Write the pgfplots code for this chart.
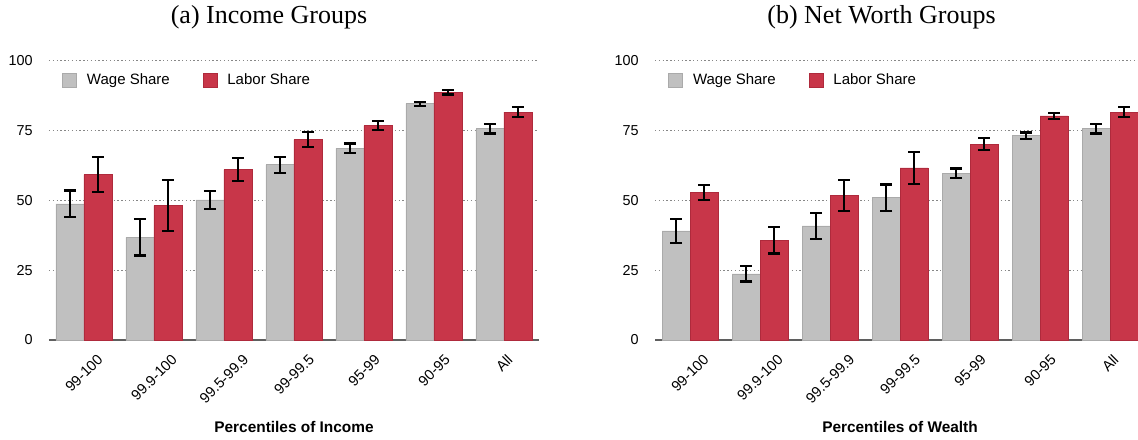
\documentclass[border=0pt]{standalone}
\usepackage{fontspec}
\setmainfont{Liberation Serif}
\setsansfont{Liberation Sans}
\usepackage{graphicx}
\usepackage{pgfplots}
\usepackage{pgfplotstable}
\pgfplotsset{compat=1.18}

\definecolor{wagegray}{RGB}{192,192,192}
\definecolor{wageedge}{RGB}{170,170,170}
\definecolor{laborred}{RGB}{200,54,73}
\definecolor{laboredge}{RGB}{175,42,60}
\definecolor{gridgray}{RGB}{135,135,135}
\definecolor{axisgray}{RGB}{95,95,95}

\newcommand{\R}[1]{\rotatebox{45}{#1}}

% columns: group, wage share, its error, labor share, its error
\pgfplotstableread{
x wage wagee labor labore
0 48.8 4.8 59.3 6.2
1 36.8 6.5 48.2 9.1
2 50.2 3.2 61.1 4.2
3 62.8 2.8 71.8 2.7
4 68.7 1.7 76.8 1.6
5 84.7 0.7 88.8 0.8
6 75.7 1.7 81.7 1.7
}\incometab

\pgfplotstableread{
x wage wagee labor labore
0 39.1 4.2 52.8 2.7
1 23.7 2.7 35.8 4.8
2 40.9 4.6 51.7 5.6
3 51.0 4.7 61.7 5.7
4 59.8 1.7 70.2 2.1
5 73.2 1.2 80.3 1.2
6 75.7 1.7 81.7 1.7
}\wealthtab

\pgfplotsset{
  shareaxis/.style={
    scale only axis, width=245pt, height=139.5pt,
    anchor=south west,
    xmin=-0.5, xmax=6.5, ymin=0, ymax=100,
    xtick={0,...,6}, ytick={0,25,50,75,100},
    xticklabels={\R{99-100},\R{99.9-100},\R{99.5-99.9},\R{99-99.5},\R{95-99},\R{90-95},\R{All}},
    axis x line*=bottom, axis y line*=left,
    x axis line style={-, draw=axisgray, line width=0.8pt},
    y axis line style={draw=none},
    major tick length=0pt,
    ymajorgrids,
    grid style={draw=gridgray, line width=0.5pt, dash pattern=on 0.7pt off 1.2pt},
    /pgf/number format/assume math mode=true,
    xticklabel style={anchor=north, inner sep=0pt, yshift=-6.5pt, font=\sffamily\fontsize{7.3}{8}\selectfont},
    yticklabel style={anchor=east, inner sep=0pt, xshift=-8pt, font=\sffamily\fontsize{7.2}{8}\selectfont},
    ybar, bar width=0.4,
    legend image code/.code={\draw[#1, line width=0.3pt] (0pt,-3.5pt) rectangle (7pt,3.5pt);
      \path (10pt,0pt);},
    legend columns=2,
    legend style={at={(0.0265,0.93)}, anchor=west, draw=none, fill=none, inner sep=0pt,
      font=\sffamily\fontsize{7.5}{9}\selectfont,
      /tikz/every even column/.append style={column sep=14.5pt}},
  },
  errs/.style={
    error bars/.cd, y dir=both, y explicit,
    error bar style={black, line width=1.1pt},
    error mark options={rotate=90, mark size=3pt, line width=1.1pt, black},
  },
}

\begin{document}
\begin{tikzpicture}
\useasboundingbox (0,0) rectangle (569pt,219.5pt);

\begin{axis}[shareaxis, at={(24.5pt,49.5pt)}]
\addplot[fill=wagegray, draw=wageedge, line width=0.3pt, bar shift=-0.2, errs]
  table[x=x, y=wage, y error=wagee] {\incometab};
\addplot[fill=laborred, draw=laboredge, line width=0.3pt, bar shift=0.2, errs]
  table[x=x, y=labor, y error=labore] {\incometab};
\legend{Wage Share, Labor Share}
\end{axis}

\begin{axis}[shareaxis, at={(327.5pt,49.5pt)}]
\addplot[fill=wagegray, draw=wageedge, line width=0.3pt, bar shift=-0.2, errs]
  table[x=x, y=wage, y error=wagee] {\wealthtab};
\addplot[fill=laborred, draw=laboredge, line width=0.3pt, bar shift=0.2, errs]
  table[x=x, y=labor, y error=labore] {\wealthtab};
\legend{Wage Share, Labor Share}
\end{axis}

\node[anchor=base, font=\fontsize{13}{15}\selectfont] at (134.5pt,207.75pt) {(a) Income Groups};
\node[anchor=base, font=\fontsize{13}{15}\selectfont] at (440.75pt,207.75pt) {(b) Net Worth Groups};
\node[anchor=base, font=\sffamily\bfseries\fontsize{7.7}{9}\selectfont] at (147pt,3.5pt) {Percentiles of Income};
\node[anchor=base, font=\sffamily\bfseries\fontsize{7.7}{9}\selectfont] at (450pt,3.5pt) {Percentiles of Wealth};
\end{tikzpicture}
\end{document}
